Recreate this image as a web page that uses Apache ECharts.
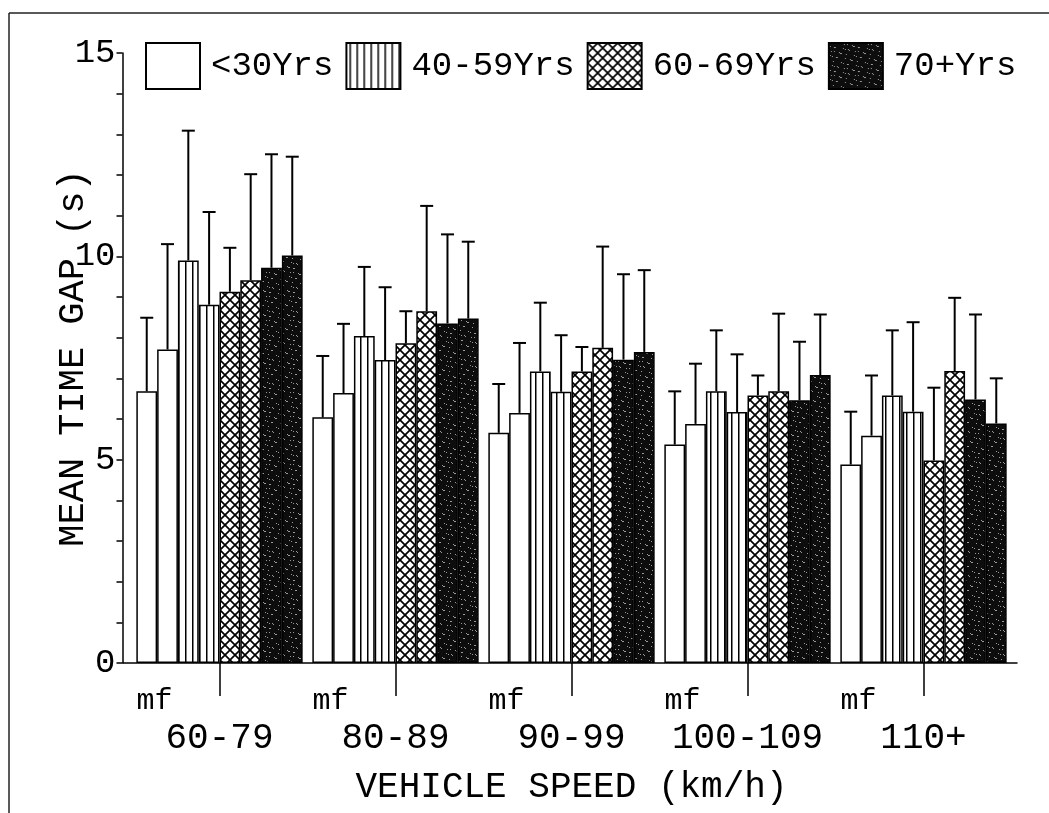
<!DOCTYPE html>
<html>
<head>
<meta charset="utf-8">
<script src="https://cdn.jsdelivr.net/npm/echarts@6/dist/echarts.min.js"></script>
<style>
  html, body { margin: 0; padding: 0; background: #fff; }
  #chart { width: 1049px; height: 813px; }
</style>
</head>
<body>
<div id="chart"></div>
<script>
const speedGroups = ['60-79', '80-89', '90-99', '100-109', '110+'];
const ageGroups = ['<30Yrs', '40-59Yrs', '60-69Yrs', '70+Yrs'];
const yTicks = [0, 5, 10, 15];

// mean time gap (s) per speed group, m and f for each age group
const meanU30M = [6.68, 6.04, 5.66, 5.37, 4.88];
const meanU30F = [7.71, 6.64, 6.15, 5.88, 5.59];
const mean4059M = [9.90, 8.04, 7.17, 6.68, 6.58];
const mean4059F = [8.81, 7.45, 6.67, 6.17, 6.18];
const mean6069M = [9.13, 7.86, 7.17, 6.58, 4.98];
const mean6069F = [9.41, 8.65, 7.75, 6.68, 7.18];
const mean70M = [9.72, 8.35, 7.46, 6.46, 6.48];
const mean70F = [10.02, 8.47, 7.65, 7.08, 5.89];

// standard deviations (upper error bars)
const sdU30M = [1.81, 1.51, 1.20, 1.31, 1.30];
const sdU30F = [2.59, 1.70, 1.72, 1.48, 1.48];
const sd4059M = [3.19, 1.70, 1.69, 1.50, 1.60];
const sd4059F = [2.28, 1.79, 1.39, 1.42, 2.20];
const sd6069M = [1.08, 0.79, 0.60, 0.49, 1.79];
const sd6069F = [2.61, 2.59, 2.49, 1.91, 1.80];
const sd70M = [2.79, 2.19, 2.10, 1.44, 2.09];
const sd70F = [2.43, 1.89, 2.01, 1.49, 1.11];

const font = "'Liberation Mono', 'DejaVu Sans Mono', monospace";
const catGap = 0.055;

const makePattern = (w, h, draw) => {
  const c = document.createElement('canvas');
  c.width = w;
  c.height = h;
  const ctx = c.getContext('2d');
  ctx.fillStyle = '#fff';
  ctx.fillRect(0, 0, w, h);
  draw(ctx, w, h);
  return { image: c, repeat: 'repeat' };
};

// fills: plain, vertical lines, crosshatch, dark stipple
const fills = [
  '#ffffff',
  makePattern(7, 7, (ctx, w, h) => {
    ctx.fillStyle = '#000';
    ctx.fillRect(3, 0, 1.5, h);
  }),
  makePattern(10, 10, (ctx, w, h) => {
    ctx.strokeStyle = '#000';
    ctx.lineWidth = 1.7;
    ctx.beginPath();
    ctx.moveTo(-1, -1); ctx.lineTo(w + 1, h + 1);
    ctx.moveTo(w + 1, -1); ctx.lineTo(-1, h + 1);
    ctx.stroke();
  }),
  makePattern(24, 24, (ctx, w, h) => {
    ctx.fillStyle = '#0d0d0d';
    ctx.fillRect(0, 0, w, h);
    ctx.fillStyle = '#9a9a9a';
    for (let i = 0; i < 36; i++) {
      ctx.fillRect((i * 7 + (i * i) % 5) % w, (i * 11 + 3) % h, 1, 1);
    }
  })
];

const bars = [
  { name: ageGroups[0], mean: meanU30M, sd: sdU30M, fill: 0 },
  { name: ageGroups[0], mean: meanU30F, sd: sdU30F, fill: 0 },
  { name: ageGroups[1], mean: mean4059M, sd: sd4059M, fill: 1 },
  { name: ageGroups[1], mean: mean4059F, sd: sd4059F, fill: 1 },
  { name: ageGroups[2], mean: mean6069M, sd: sd6069M, fill: 2 },
  { name: ageGroups[2], mean: mean6069F, sd: sd6069F, fill: 2 },
  { name: ageGroups[3], mean: mean70M, sd: sd70M, fill: 3 },
  { name: ageGroups[3], mean: mean70F, sd: sd70F, fill: 3 }
];

const barSeries = bars.map(b => ({
  type: 'bar',
  name: b.name,
  data: b.mean,
  barGap: '0%',
  barCategoryGap: catGap * 100 + '%',
  itemStyle: { color: fills[b.fill], borderColor: '#000', borderWidth: 1.5 },
  emphasis: { disabled: true },
  z: 2
}));

const errSeries = bars.map((b, idx) => ({
  type: 'custom',
  name: 'sd',
  data: b.mean.map((m, i) => [i, m, m + b.sd[i]]),
  encode: { x: 0, y: [1, 2] },
  z: 5,
  silent: true,
  renderItem: (params, api) => {
    const base = api.coord([api.value(0), api.value(1)]);
    const top = api.coord([api.value(0), api.value(2)]);
    const barW = api.size([1, 0])[0] * (1 - catGap) / bars.length;
    const x = base[0] + (idx - (bars.length - 1) / 2) * barW;
    const lineStyle = { stroke: '#000', lineWidth: 2 };
    return {
      type: 'group',
      children: [
        { type: 'line', shape: { x1: x, y1: base[1], x2: x, y2: top[1] }, style: lineStyle },
        { type: 'line', shape: { x1: x - 6.5, y1: top[1], x2: x + 6.5, y2: top[1] }, style: lineStyle }
      ]
    };
  }
}));

const gridLeft = 131.5;
const gridWidth = 880;
const yOffset = 9;

const chart = echarts.init(document.getElementById('chart'));
chart.setOption({
  animation: false,
  backgroundColor: '#fff',
  grid: { left: gridLeft, top: 53, width: gridWidth, height: 610, outerBoundsMode: 'none' },
  legend: {
    data: ageGroups,
    left: 145,
    top: 42,
    padding: 0,
    icon: 'rect',
    itemWidth: 54,
    itemHeight: 46,
    itemGap: 12,
    selectedMode: false,
    itemStyle: { borderColor: '#000', borderWidth: 2 },
    textStyle: { fontFamily: font, fontSize: 34, color: '#000', padding: [0, 0, 0, 6] }
  },
  xAxis: {
    type: 'category',
    data: speedGroups,
    name: 'VEHICLE SPEED (km/h)',
    nameLocation: 'middle',
    nameGap: 106,
    nameMoveOverlap: false,
    nameTextStyle: { fontFamily: font, fontSize: 36, color: '#000' },
    axisLine: { show: false },
    axisTick: { show: true, alignWithLabel: true, length: 33, lineStyle: { color: '#000', width: 1.5 } },
    axisLabel: {
      interval: 0,
      margin: 21,
      color: '#000',
      formatter: v => '{mf|mf}\n{cat|' + v + '}',
      rich: {
        mf: { fontFamily: font, fontSize: 30, lineHeight: 34, width: 166, align: 'left', color: '#000' },
        cat: { fontFamily: font, fontSize: 36, lineHeight: 40, align: 'center', color: '#000' }
      }
    },
    splitLine: { show: false }
  },
  yAxis: {
    type: 'value',
    min: yTicks[0],
    max: yTicks[yTicks.length - 1],
    interval: yTicks[1] - yTicks[0],
    offset: yOffset,
    name: 'MEAN TIME GAP (s)',
    nameLocation: 'middle',
    nameRotate: 90,
    nameGap: 31,
    nameMoveOverlap: false,
    nameTextStyle: { fontFamily: font, fontSize: 37, color: '#000' },
    axisLine: { show: true, lineStyle: { color: '#000', width: 1.5 } },
    axisTick: { show: true, length: 6, lineStyle: { color: '#000', width: 1.5 } },
    minorTick: { show: true, splitNumber: 5, length: 6, lineStyle: { color: '#000', width: 1.5 } },
    axisLabel: { fontFamily: font, fontSize: 34, color: '#000', margin: 7 },
    splitLine: { show: false }
  },
  series: [...barSeries, ...errSeries]
});

// baseline from the y axis to the right end, plus the figure frame
const y0 = chart.convertToPixel({ yAxisIndex: 0 }, 0);
chart.setOption({
  graphic: [
    {
      type: 'line',
      shape: { x1: gridLeft - yOffset, y1: y0, x2: gridLeft + gridWidth + 6, y2: y0 },
      style: { stroke: '#000', lineWidth: 1.5 },
      z: 10
    },
    { type: 'line', shape: { x1: 9, y1: 13, x2: 1049, y2: 13 }, style: { stroke: '#222', lineWidth: 1.5 } },
    { type: 'line', shape: { x1: 9, y1: 13, x2: 9, y2: 813 }, style: { stroke: '#222', lineWidth: 1.5 } }
  ]
});
</script>
</body>
</html>
